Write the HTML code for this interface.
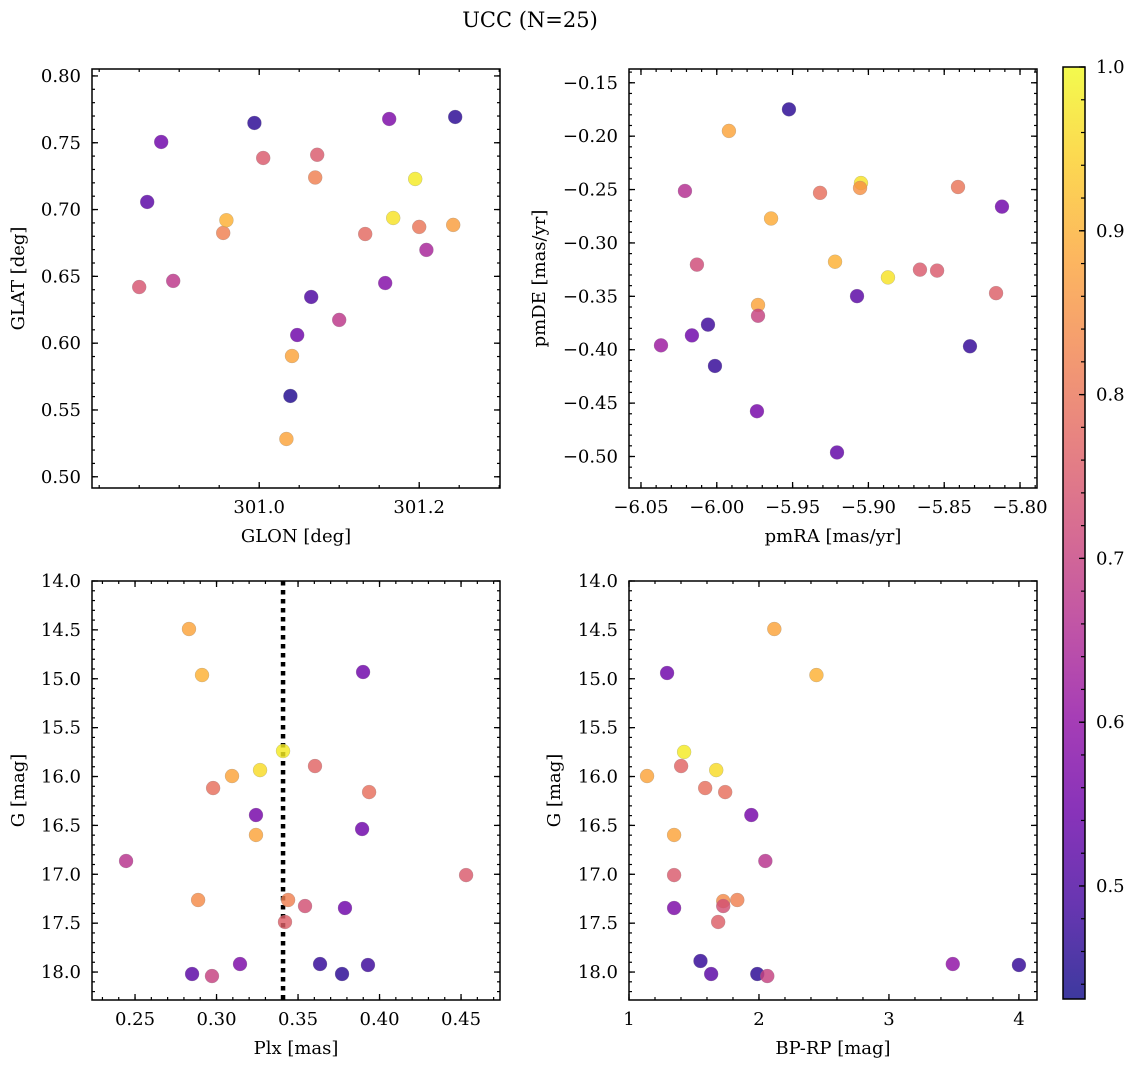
<!DOCTYPE html>
<html><head><meta charset="utf-8">
<style>
body{margin:0;background:#fff;}
svg{display:block;font-family:"DejaVu Serif","Liberation Serif",serif;}
</style></head>
<body>
<svg id="fig" width="1136" height="1067" viewBox="0 0 1136 1067" xmlns="http://www.w3.org/2000/svg">
<defs>
<linearGradient id="plasma" x1="0" y1="1" x2="0" y2="0">
<stop offset="0" stop-color="#0d0887"/><stop offset="0.1" stop-color="#41049d"/><stop offset="0.2" stop-color="#6a00a8"/><stop offset="0.3" stop-color="#8f0da4"/><stop offset="0.4" stop-color="#b12a90"/><stop offset="0.5" stop-color="#cc4778"/><stop offset="0.6" stop-color="#e16462"/><stop offset="0.7" stop-color="#f2844b"/><stop offset="0.8" stop-color="#fca636"/><stop offset="0.9" stop-color="#fcce25"/><stop offset="1" stop-color="#f0f921"/>
</linearGradient>
</defs>
<text x="530" y="27" font-size="21" text-anchor="middle">UCC (N=25)</text>
</svg>
<script>
// ---- data ----
const cMin = 0.431, cMax = 1.0;
// panel 1: GLON / GLAT
const glon = [300.8775,300.86,300.85,300.8925,300.955,300.959,300.994,301.005,301.0725,301.07,301.065,301.0475,301.041,301.039,301.034,301.1,301.1325,301.1575,301.1625,301.245,301.195,301.1675,301.2,301.209,301.2425];
const glat = [0.7506,0.7057,0.642,0.6466,0.6825,0.692,0.7648,0.7386,0.741,0.724,0.6346,0.6061,0.5904,0.5605,0.5283,0.6174,0.6817,0.645,0.7678,0.7693,0.7229,0.6937,0.687,0.6698,0.6885];
const c1 = [0.55,0.52,0.74,0.68,0.82,0.9,0.46,0.75,0.75,0.82,0.5,0.55,0.88,0.45,0.88,0.68,0.78,0.58,0.57,0.46,0.98,0.97,0.8,0.64,0.87];
// panel 2: pmRA / pmDE
const pmra = [-5.9524,-5.992,-6.021,-5.9049,-5.9055,-5.9319,-5.8409,-5.8119,-5.9642,-6.0131,-5.922,-5.8871,-5.866,-5.8547,-5.8158,-5.9075,-5.9728,-5.9728,-6.0368,-6.0164,-6.0058,-5.833,-6.0012,-5.9735,-5.9207];
const pmde = [-0.1749,-0.1951,-0.2513,-0.2439,-0.2485,-0.2531,-0.2476,-0.266,-0.2771,-0.3203,-0.3176,-0.3323,-0.325,-0.3259,-0.347,-0.3498,-0.3581,-0.3682,-0.3959,-0.3866,-0.3765,-0.3968,-0.4152,-0.4576,-0.4962];
const c2 = [0.46,0.88,0.66,0.97,0.85,0.79,0.8,0.55,0.89,0.72,0.9,0.97,0.75,0.75,0.76,0.52,0.88,0.7,0.62,0.55,0.48,0.47,0.47,0.56,0.53];
// panel 3: Plx / G
const plx = [0.2831,0.2911,0.3899,0.3408,0.3267,0.3095,0.3604,0.2979,0.3936,0.3242,0.3893,0.3242,0.2445,0.4531,0.2887,0.3439,0.3543,0.3788,0.342,0.3635,0.3144,0.3929,0.285,0.2972,0.377];
const gmag3 = [14.491,14.962,14.931,15.739,15.934,15.995,15.893,16.118,16.159,16.394,16.537,16.598,16.864,17.008,17.263,17.263,17.325,17.345,17.488,17.918,17.918,17.928,18.02,18.041,18.02];
const c3 = [0.88,0.9,0.55,0.98,0.96,0.88,0.77,0.79,0.79,0.56,0.55,0.88,0.67,0.75,0.84,0.82,0.73,0.55,0.76,0.47,0.57,0.48,0.52,0.7,0.46];
const plxMedian = 0.3408;
// panel 4: BP-RP / G
const bprp = [2.118,2.442,1.293,1.424,1.671,1.401,1.139,1.586,1.74,1.941,1.347,2.049,1.347,1.347,1.725,1.833,1.725,1.686,1.55,1.632,1.987,2.064,3.491,4.0];
const gmag4 = [14.491,14.962,14.941,15.749,15.934,15.893,15.995,16.118,16.159,16.394,16.598,16.864,17.008,17.345,17.274,17.263,17.325,17.488,17.887,18.02,18.02,18.041,17.918,17.928];
const c4 = [0.88,0.9,0.55,0.98,0.96,0.77,0.88,0.79,0.79,0.56,0.88,0.67,0.75,0.57,0.84,0.82,0.73,0.76,0.47,0.52,0.46,0.7,0.6,0.47];
// tick labels
const p1xTicks = [301.0,301.2];
const p1yTicks = [0.50,0.55,0.60,0.65,0.70,0.75,0.80];
const p2xTicks = [-6.05,-6.00,-5.95,-5.90,-5.85,-5.80];
const p2yTicks = [-0.50,-0.45,-0.40,-0.35,-0.30,-0.25,-0.20,-0.15];
const p3xTicks = [0.25,0.30,0.35,0.40,0.45];
const gTicks = [14.0,14.5,15.0,15.5,16.0,16.5,17.0,17.5,18.0];
const p4xTicks = [1,2,3,4];
const cbTicks = [0.5,0.6,0.7,0.8,0.9,1.0];

// ---- drawing ----
const NS = "http://www.w3.org/2000/svg";
const svg = document.getElementById('fig');
function el(tag, attrs, parent){const e=document.createElementNS(NS,tag);for(const k in attrs)e.setAttribute(k,attrs[k]);(parent||svg).appendChild(e);return e;}
const stops=[[0,[13,8,135]],[0.1,[65,4,157]],[0.2,[106,0,168]],[0.3,[143,13,164]],[0.4,[177,42,144]],[0.5,[204,71,120]],[0.6,[225,100,98]],[0.7,[242,132,75]],[0.8,[252,166,54]],[0.9,[252,206,37]],[1,[240,249,33]]];
function plasma(v){let t=(v-cMin)/(cMax-cMin);t=Math.max(0,Math.min(1,t));for(let i=1;i<stops.length;i++){if(t<=stops[i][0]){const a=stops[i-1],b=stops[i];const f=(t-a[0])/(b[0]-a[0]);const c=a[1].map((x,j)=>Math.round(x+(b[1][j]-x)*f));return `rgb(${c[0]},${c[1]},${c[2]})`;}}return 'rgb(240,249,33)';}

const FS = 18;
function panel(cfg){
  const g=el('g',{});
  
  
  const {L,T,R,B,xmin,xmax,ymin,ymax,invertY}=cfg;
  const sx=v=>L+(v-xmin)/(xmax-xmin)*(R-L);
  const sy=v=>invertY? T+(v-ymin)/(ymax-ymin)*(B-T) : B-(v-ymin)/(ymax-ymin)*(B-T);
  const eps=1e-9;
  let start=Math.ceil(xmin/cfg.xMinor-eps)*cfg.xMinor;
  for(let v=start; v<=xmax+eps; v+=cfg.xMinor){const x=sx(v);
    const t1=el('line',{x1:x,y1:B,x2:x,y2:B-3,stroke:'#000','stroke-width':1.2},g);
    const t2=el('line',{x1:x,y1:T,x2:x,y2:T+3,stroke:'#000','stroke-width':1.2},g);}
  start=Math.ceil(ymin/cfg.yMinor-eps)*cfg.yMinor;
  for(let v=start; v<=ymax+eps; v+=cfg.yMinor){const y=sy(v);
    const t1=el('line',{x1:L,y1:y,x2:L+3,y2:y,stroke:'#000','stroke-width':1.2},g);
    const t2=el('line',{x1:R,y1:y,x2:R-3,y2:y,stroke:'#000','stroke-width':1.2},g);}
  cfg.xTicks.forEach(v=>{const x=sx(v);
    const a=el('line',{x1:x,y1:B,x2:x,y2:B-6,stroke:'#000','stroke-width':1.3},g);
    const b=el('line',{x1:x,y1:T,x2:x,y2:T+6,stroke:'#000','stroke-width':1.3},g);
    const t=el('text',{x:x,y:B+25,'font-size':FS,'text-anchor':'middle'},g);t.textContent=v.toFixed(cfg.xDec).replace('-','\u2212');
    });
  cfg.yTicks.forEach(v=>{const y=sy(v);
    const a=el('line',{x1:L,y1:y,x2:L+6,y2:y,stroke:'#000','stroke-width':1.3},g);
    const b=el('line',{x1:R,y1:y,x2:R-6,y2:y,stroke:'#000','stroke-width':1.3},g);
    const t=el('text',{x:L-11,y:y+6,'font-size':FS,'text-anchor':'end'},g);t.textContent=v.toFixed(cfg.yDec).replace('-','\u2212');
    });
  if(cfg.vline!==undefined){const x=sx(cfg.vline);
    const vl=el('line',{x1:x,y1:T,x2:x,y2:B,stroke:'#000','stroke-width':4.5,'stroke-dasharray':'4.5,4.5'},g);
    }
  cfg.xs.forEach((xv,i)=>{
    const c=el('circle',{cx:sx(xv),cy:sy(cfg.ys[i]),r:7,fill:plasma(cfg.cs[i]),'fill-opacity':0.82,stroke:'#888','stroke-width':0.4,'stroke-opacity':0.6},g);
    
    
  });
  const f=el('rect',{x:L,y:T,width:R-L,height:B-T,fill:'none',stroke:'#000','stroke-width':1.5},g);
  
  const xl=el('text',{x:(L+R)/2,y:B+54,'font-size':FS,'text-anchor':'middle'},g);xl.textContent=cfg.xlabel;
  
  const ylx=cfg.ylabelX, yly=(T+B)/2;
  const yl=el('text',{x:ylx,y:yly,'font-size':FS,'text-anchor':'middle',transform:`rotate(-90 ${ylx} ${yly})`},g);yl.textContent=cfg.ylabel;
  
}

panel({name:'glon-glat-panel',L:92,T:69,R:500,B:488,xmin:300.791,xmax:301.301,ymin:0.4916,ymax:0.8052,xs:glon,ys:glat,cs:c1,xTicks:p1xTicks,yTicks:p1yTicks,xMinor:0.05,yMinor:0.01,xDec:1,yDec:2,xlabel:'GLON [deg]',ylabel:'GLAT [deg]',ylabelX:24});
panel({name:'pm-panel',L:629,T:69,R:1037,B:488,xmin:-6.0579,xmax:-5.7888,ymin:-0.5295,ymax:-0.1371,xs:pmra,ys:pmde,cs:c2,xTicks:p2xTicks,yTicks:p2yTicks,xMinor:0.01,yMinor:0.01,xDec:2,yDec:2,xlabel:'pmRA [mas/yr]',ylabel:'pmDE [mas/yr]',ylabelX:545});
panel({name:'plx-g-panel',L:92,T:581,R:500,B:1000,xmin:0.2236,xmax:0.4739,ymin:14.0,ymax:18.286,invertY:true,xs:plx,ys:gmag3,cs:c3,xTicks:p3xTicks,yTicks:gTicks,xMinor:0.01,yMinor:0.1,xDec:2,yDec:1,xlabel:'Plx [mas]',ylabel:'G [mag]',ylabelX:24,vline:plxMedian});
panel({name:'cmd-panel',L:629,T:581,R:1037,B:1000,xmin:1.0,xmax:4.139,ymin:14.0,ymax:18.286,invertY:true,xs:bprp,ys:gmag4,cs:c4,xTicks:p4xTicks,yTicks:gTicks,xMinor:0.2,yMinor:0.1,xDec:0,yDec:1,xlabel:'BP-RP [mag]',ylabel:'G [mag]',ylabelX:560});

(function(){
  const L=1063,R=1085,T=67,B=999;
  const sy=v=>B-(v-cMin)/(cMax-cMin)*(B-T);
  const g=el('g',{});
  
  
  const r=el('rect',{x:L,y:T,width:R-L,height:B-T,fill:'url(#plasma)','fill-opacity':0.8},g);
  
  for(let v=Math.ceil(cMin/0.02)*0.02; v<=cMax+1e-9; v+=0.02){const y=sy(v);
    const m=el('line',{x1:R,y1:y,x2:R-4,y2:y,stroke:'#000','stroke-width':1.2},g);}
  cbTicks.forEach(v=>{const y=sy(v);
    const m=el('line',{x1:R,y1:y,x2:R-6,y2:y,stroke:'#000','stroke-width':1.3},g);
    const t=el('text',{x:R+11,y:y+6,'font-size':FS},g);t.textContent=v.toFixed(1);
    });
  const f=el('rect',{x:L,y:T,width:R-L,height:B-T,fill:'none',stroke:'#000','stroke-width':1.5},g);
  
})();
</script>
</body></html>
